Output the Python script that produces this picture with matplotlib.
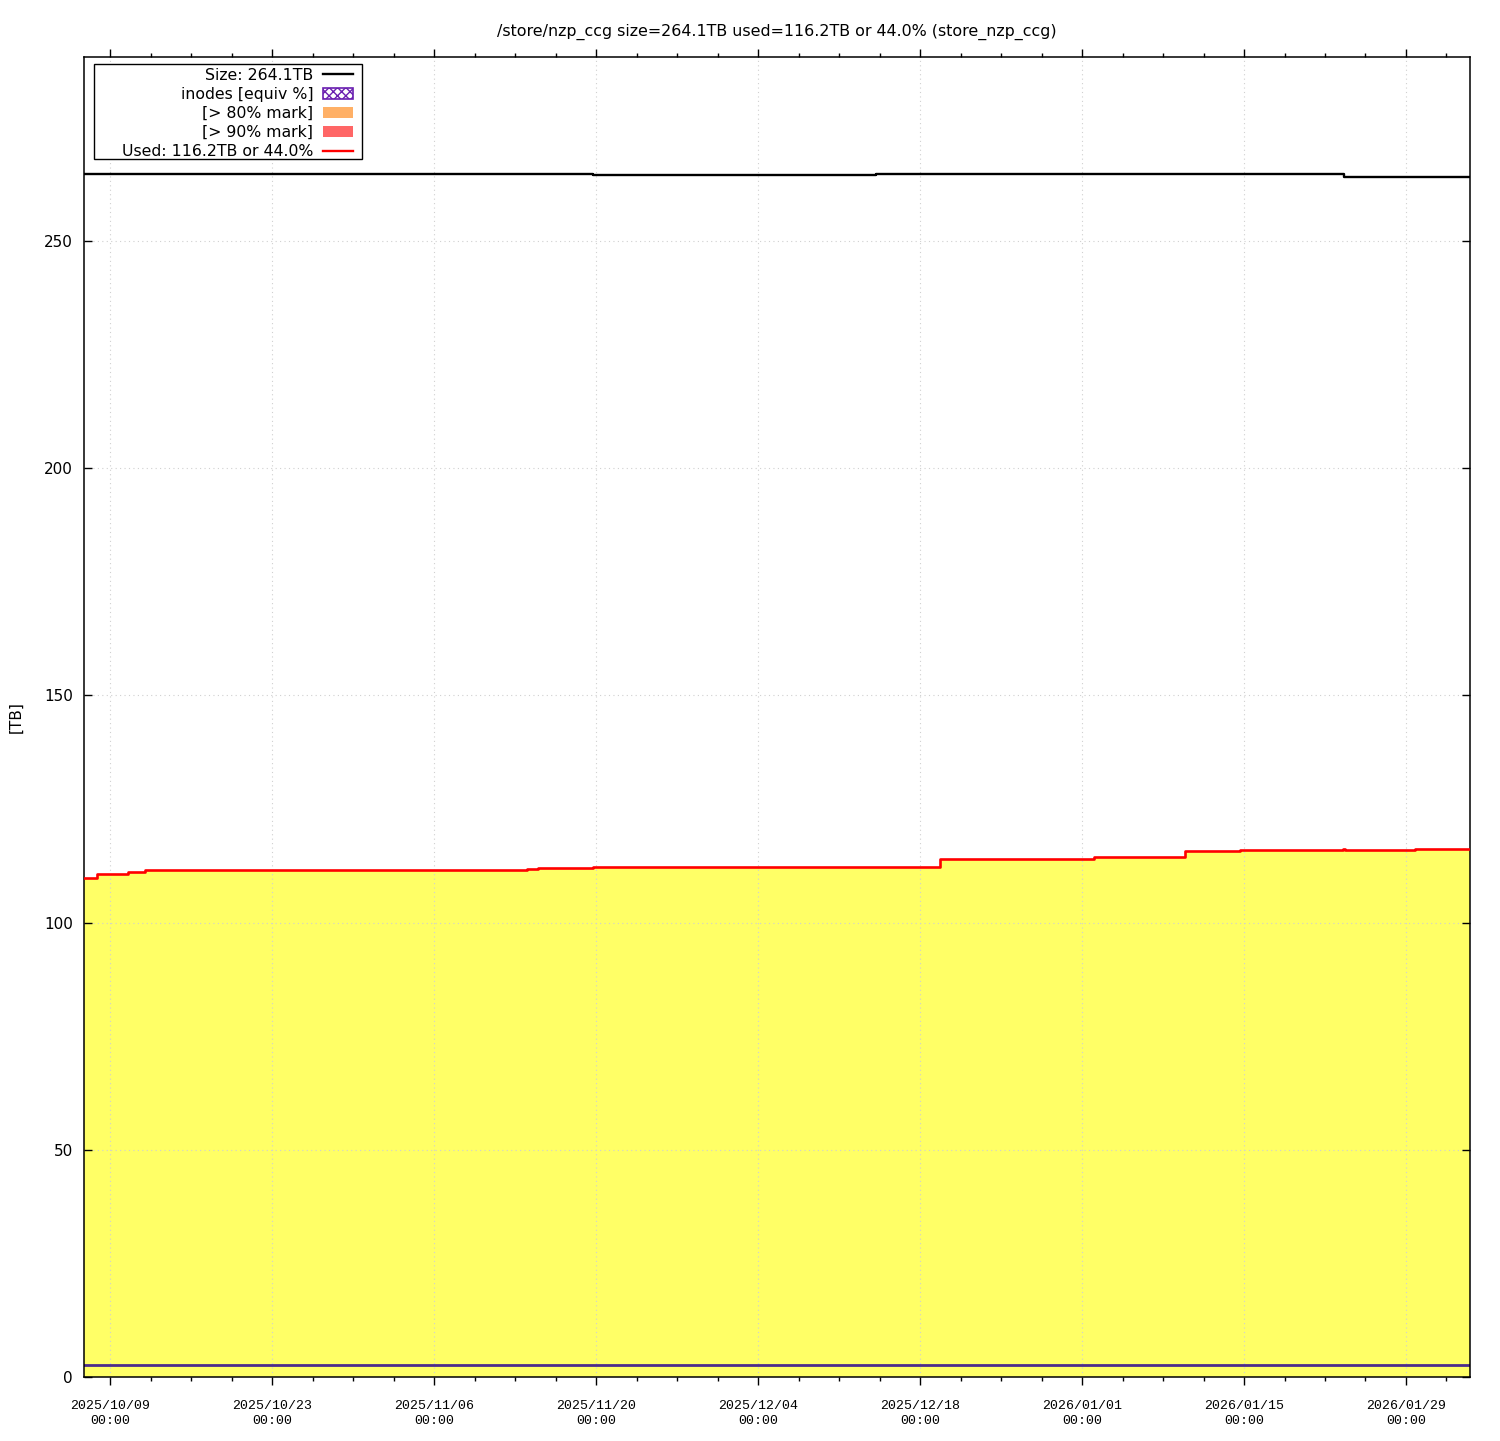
import matplotlib
matplotlib.use("Agg")
import matplotlib.pyplot as plt
from matplotlib.lines import Line2D
from matplotlib.patches import Patch, Rectangle
import pandas as pd

# disk size [TB], value holds from the given time on
size_times = ["2025-10-06 18:00", "2025-11-19 18:00", "2025-12-14 05:00", "2026-01-23 15:00", "2026-02-03 12:45"]
size_vals = [264.8, 264.6, 264.8, 264.1, 264.1]

# used space [TB]
used_times = ["2025-10-06 18:00", "2025-10-07 21:00", "2025-10-10 13:00", "2025-10-12 00:00",
              "2025-11-14 00:00", "2025-11-15 00:00", "2025-11-19 18:00", "2025-12-19 17:00",
              "2026-01-02 00:00", "2026-01-09 22:00", "2026-01-14 16:00", "2026-01-23 13:00",
              "2026-01-23 17:00", "2026-01-29 19:00", "2026-02-03 12:45"]
used_vals = [109.9, 110.8, 111.2, 111.5, 111.8, 112.0, 112.2, 114.0,
             114.4, 115.7, 115.9, 116.3, 115.9, 116.2, 116.2]

# inodes, expressed as equivalent TB
inode_times = ["2025-10-06 18:00", "2026-02-03 12:45"]
inode_vals = [2.6, 2.6]

tick_days = pd.date_range("2025-10-09", "2026-01-29", freq="14D")
minor_days = pd.date_range("2025-10-05 12:00", "2026-02-04", freq="84h")

size_t = pd.to_datetime(size_times)
used_t = pd.to_datetime(used_times)
inode_t = pd.to_datetime(inode_times)

plt.rcParams["font.family"] = ["DejaVu Sans"]
fig = plt.figure(figsize=(15, 14.41), dpi=100)
W, H = 1500, 1441
ax = fig.add_axes([84 / W, 1 - 1377 / H, (1470 - 84) / W, (1377 - 57) / H])

ax.fill_between(used_t, 0, used_vals, step="post", color="#ffff66", lw=0, zorder=1)
ax.plot(inode_t, inode_vals, color="#4b2a8c", lw=2, zorder=2)
ax.plot(used_t, used_vals, drawstyle="steps-post", color="#ff0000", lw=1.9, zorder=3)
ax.plot(size_t, size_vals, drawstyle="steps-post", color="black", lw=1.7, zorder=3)

ax.set_yticks(range(0, 251, 50))
ax.set_xticks(tick_days)
ax.set_xticklabels([d.strftime("%Y/%m/%d\n00:00") for d in tick_days],
                   fontfamily="Liberation Mono", fontsize=9.5, linespacing=1.3)
ax.set_xticks(minor_days, minor=True)
ax.set_xlim(size_t[0], size_t[-1])
ax.set_ylim(0, 290.5)

ax.tick_params(axis="x", which="major", direction="out", length=5.8, width=1, top=True, pad=11)
ax.tick_params(axis="x", which="minor", direction="out", length=3, width=1, top=True)
ax.tick_params(axis="y", which="major", direction="in", length=5.8, width=1, right=True,
               labelsize=11, pad=8)
for s in ax.spines.values():
    s.set_linewidth(1.1)

ax.grid(True, which="major", color="#d0d0d0", linestyle=(0, (1, 3)), lw=0.8)

ax.set_ylabel("[TB]", fontsize=11)
ax.yaxis.set_label_coords(-0.0433, 0.5)
ax.set_title("/store/nzp_ccg size=264.1TB used=116.2TB or 44.0% (store_nzp_ccg)",
             fontsize=11.4, pad=15)

handles = [
    Line2D([], [], color="black", lw=1.7),
    Patch(facecolor="white", edgecolor="#6a1fb0", hatch="xxxx", lw=1.2),
    Patch(facecolor="#ffb066", edgecolor="none"),
    Patch(facecolor="#ff6666", edgecolor="none"),
    Line2D([], [], color="#ff0000", lw=1.7),
]
labels = ["Size: 264.1TB", "inodes [equiv %]", "[> 80% mark]", "[> 90% mark]",
          "Used: 116.2TB or 44.0%"]
# legend box of the reference: x 94..362, y 64..159 px
ax.add_patch(Rectangle(((94 - 84) / 1386, (1377 - 159) / 1320), 268 / 1386, 95 / 1320,
                       transform=ax.transAxes, facecolor="white", edgecolor="black",
                       lw=1.0, zorder=4))
leg = ax.legend(handles, labels, loc="upper right",
                bbox_to_anchor=((358 - 84) / 1386, (1377 - 63) / 1320),
                markerfirst=False, fontsize=11.3, frameon=False,
                borderpad=0.1, labelspacing=0.26, handlelength=1.95, handleheight=0.65,
                handletextpad=0.6, borderaxespad=0.2)
leg.set_zorder(5)

fig.savefig("out.png", dpi=100)
